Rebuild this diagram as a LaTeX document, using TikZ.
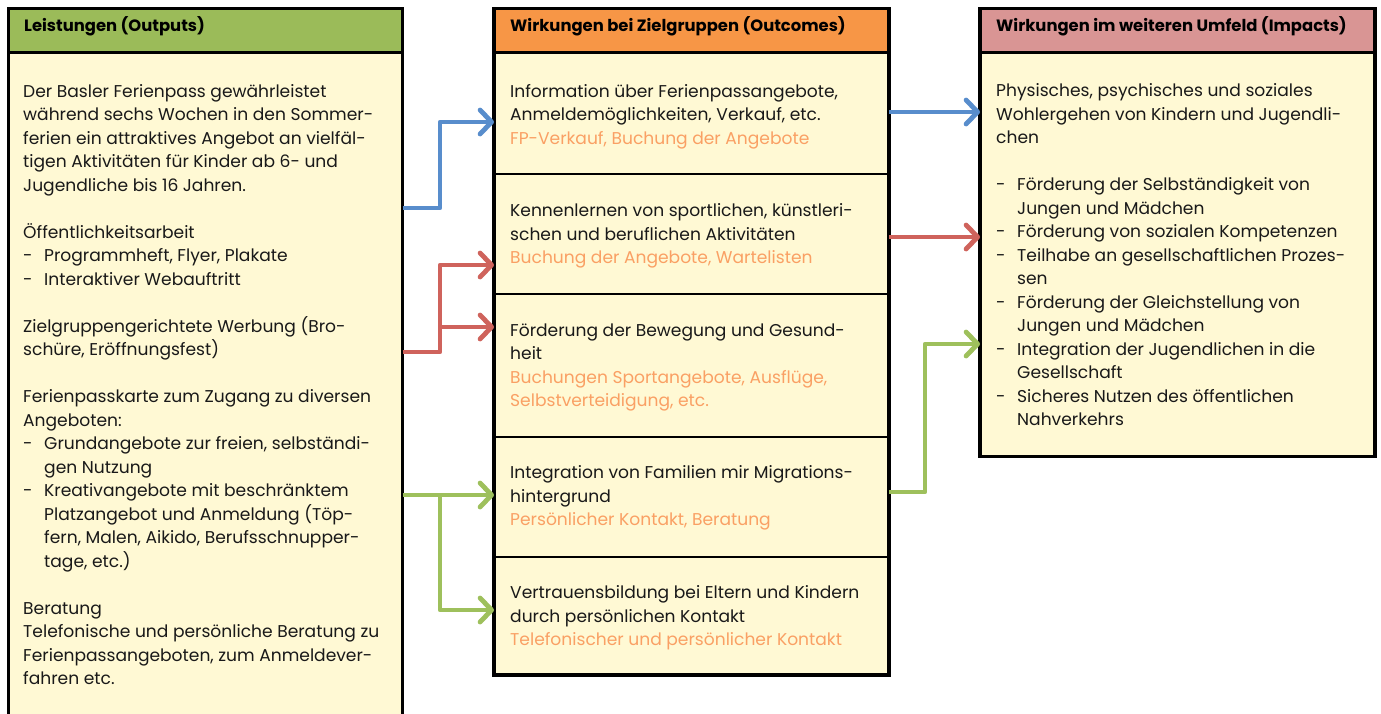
\documentclass[tikz,border=0pt]{standalone}
\usepackage{fontspec}
\setmainfont{Poppins}
\usetikzlibrary{arrows.meta}
\definecolor{hgreen}{RGB}{155,187,89}
\definecolor{horange}{RGB}{247,150,70}
\definecolor{hpink}{RGB}{217,149,148}
\definecolor{cellfill}{RGB}{255,249,212}
\definecolor{otext}{RGB}{250,160,100}
\definecolor{ablue}{RGB}{88,141,204}
\definecolor{ared}{RGB}{207,99,92}
\definecolor{agreen}{RGB}{158,192,92}
\definecolor{ink}{RGB}{25,25,25}
\newcommand\bodysize{\fontsize{17.1}{23.5}\selectfont}
\newcommand\dashitem[1]{\makebox[21pt][l]{-}#1}
\newcommand\contline[1]{\hspace*{21pt}#1}
\newcommand\fst{\rule{0pt}{18pt}}
\newcommand\ot[1]{{\color{otext}#1}}
\begin{document}
\begin{tikzpicture}[x=1pt,y=-1pt,
  cellbox/.style={rectangle, fill=cellfill, inner sep=0, outer sep=0, anchor=north west},
  hdrbox/.style={rectangle, inner sep=0, outer sep=0, anchor=north west},
  frame/.style={draw=black, line width=3.5pt},
  hline/.style={draw=black, line width=3pt},
  sepline/.style={draw=black, line width=2pt},
  hdrtext/.style={anchor=base west, inner sep=0, font=\fontsize{16.4}{18}\selectfont\bfseries, text=black},
  bodytext/.style={anchor=north west, inner sep=0, align=left, font=\bodysize, text=ink},
  arr/.style={line width=4.8pt, line join=round, -{Straight Barb[length=11.5pt,width=24pt,round]}}
]
\clip (0,0) rectangle (1381,713);
\fill[white] (0,0) rectangle (1381,713);
% left column
\node[hdrbox, fill=hgreen, minimum width=394pt, minimum height=44pt] (Lh) at (8.5,8.5) {};
\node[cellbox, minimum width=394pt, minimum height=700pt] (L) at (8.5,52.5) {};
% middle column
\node[hdrbox, fill=horange, minimum width=395pt, minimum height=44pt] (Mh) at (494,8.5) {};
\node[cellbox, minimum width=395pt, minimum height=121.5pt] (m1) at (494,52.5) {};
\node[cellbox, minimum width=395pt, minimum height=120pt] (m2) at (494,174) {};
\node[cellbox, minimum width=395pt, minimum height=142.5pt] (m3) at (494,294) {};
\node[cellbox, minimum width=395pt, minimum height=120.5pt] (m4) at (494,436.5) {};
\node[cellbox, minimum width=395pt, minimum height=118pt] (m5) at (494,557) {};
% right column
\node[hdrbox, fill=hpink, minimum width=395pt, minimum height=44pt] (Rh) at (980,8.5) {};
\node[cellbox, minimum width=395pt, minimum height=404pt] (R) at (980,52.5) {};
% separators
\draw[hline] (Lh.south west) -- (Lh.south east);
\draw[hline] (Mh.south west) -- (Mh.south east);
\draw[hline] (Rh.south west) -- (Rh.south east);
\draw[sepline] (m1.south west) -- (m1.south east);
\draw[sepline] (m2.south west) -- (m2.south east);
\draw[sepline] (m3.south west) -- (m3.south east);
\draw[sepline] (m4.south west) -- (m4.south east);
% frames
\draw[frame] (Lh.north west) rectangle (L.south east);
\draw[frame] (Mh.north west) rectangle (m5.south east);
\draw[frame] (Rh.north west) rectangle (R.south east);
% headers
\node[hdrtext] (Lht) at (24,31.7) {Leistungen (Outputs)};
\node[hdrtext] (Mht) at (510,31.7) {Wirkungen bei Zielgruppen (Outcomes)};
\node[hdrtext] (Rht) at (996,31.7) {Wirkungen im weiteren Umfeld (Impacts)};
% left text
\node[bodytext] (Lt) at (23,79) {\fst Der Basler Ferienpass gewährleistet\\
während sechs Wochen in den Sommer-\\
ferien ein attraktives Angebot an vielfäl-\\
tigen Aktivitäten für Kinder ab 6- und\\
Jugendliche bis 16 Jahren.\\[23.5pt]
Öffentlichkeitsarbeit\\
\dashitem{Programmheft, Flyer, Plakate}\\
\dashitem{Interaktiver Webauftritt}\\[23.5pt]
Zielgruppengerichtete Werbung (Bro-\\
schüre, Eröffnungsfest)\\[23.5pt]
Ferienpasskarte zum Zugang zu diversen\\
Angeboten:\\
\dashitem{Grundangebote zur freien, selbständi-}\\
\contline{gen Nutzung}\\
\dashitem{Kreativangebote mit beschränktem}\\
\contline{Platzangebot und Anmeldung (Töp-}\\
\contline{fern, Malen, Aikido, Berufsschnupper-}\\
\contline{tage, etc.)}\\[23.5pt]
Beratung\\
Telefonische und persönliche Beratung zu\\
Ferienpassangeboten, zum Anmeldever-\\
fahren etc.};
% middle text
\node[bodytext] (m1t) at (510,79) {\fst Information über Ferienpassangebote,\\
Anmeldemöglichkeiten, Verkauf, etc.\\
\ot{FP-Verkauf, Buchung der Angebote}};
\node[bodytext] (m2t) at (510,198.7) {\fst Kennenlernen von sportlichen, künstleri-\\
schen und beruflichen Aktivitäten\\
\ot{Buchung der Angebote, Wartelisten}};
\node[bodytext] (m3t) at (510,318) {\fst Förderung der Bewegung und Gesund-\\
heit\\
\ot{Buchungen Sportangebote, Ausflüge,}\\
\ot{Selbstverteidigung, etc.}};
\node[bodytext] (m4t) at (510,460.5) {\fst Integration von Familien mir Migrations-\\
hintergrund\\
\ot{Persönlicher Kontakt, Beratung}};
\node[bodytext] (m5t) at (510,580.5) {\fst Vertrauensbildung bei Eltern und Kindern\\
durch persönlichen Kontakt\\
\ot{Telefonischer und persönlicher Kontakt}};
% right text
\node[bodytext] (Rt) at (996,78.5) {\fst Physisches, psychisches und soziales\\
Wohlergehen von Kindern und Jugendli-\\
chen\\[23.5pt]
\dashitem{Förderung der Selbständigkeit von}\\
\contline{Jungen und Mädchen}\\
\dashitem{Förderung von sozialen Kompetenzen}\\
\dashitem{Teilhabe an gesellschaftlichen Prozes-}\\
\contline{sen}\\
\dashitem{Förderung der Gleichstellung von}\\
\contline{Jungen und Mädchen}\\
\dashitem{Integration der Jugendlichen in die}\\
\contline{Gesellschaft}\\
\dashitem{Sicheres Nutzen des öffentlichen}\\
\contline{Nahverkehrs}};
% arrows left -> middle
\draw[arr, ablue] (L.east |- 0,208) -| (440,122) -- (m1.west |- 0,122);
\draw[arr, ared] (L.east |- 0,352) -| (440,265) -- (m2.west |- 0,265);
\draw[arr, ared] (440,327) -- (m3.west |- 0,327);
\draw[arr, agreen] (L.east |- 0,495) -- (m4.west |- 0,495);
\draw[arr, agreen] (440,495) |- (m5.west |- 0,610);
% arrows middle -> right
\draw[arr, ablue] (m1.east |- 0,112) -- (R.west |- 0,112);
\draw[arr, ared] (m2.east |- 0,237) -- (R.west |- 0,237);
\draw[arr, agreen] (m4.east |- 0,492) -| (925,344) -- (R.west |- 0,344);
\end{tikzpicture}
\end{document}
